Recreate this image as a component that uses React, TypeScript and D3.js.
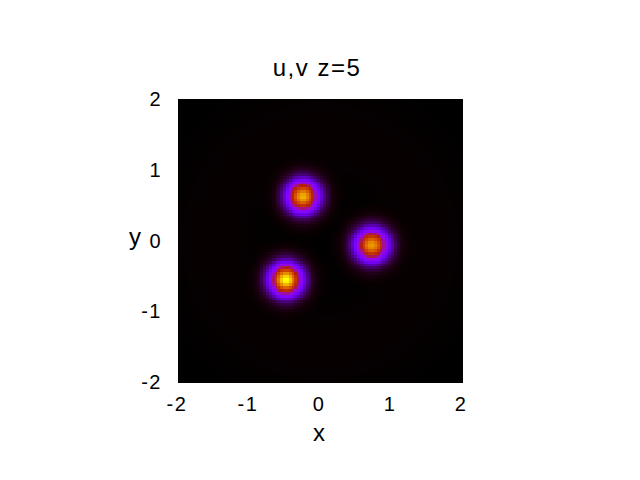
import React from "react";
import * as d3 from "d3";

// Title and axis labels
const title = "u,v z=5";
const xLabel = "x";
const yLabel = "y";
const xTicks = [-2, -1, 0, 1, 2];
const yTicks = [-2, -1, 0, 1, 2];

// Field: three bright spots (centre, peak, width)
const spotX = [-0.24, 0.73, -0.48];
const spotY = [0.63, -0.06, -0.55];
const spotPeak = [0.88, 0.84, 1.0];
const spotWidth = [0.14, 0.143, 0.14];
// faint background ring
const ringRadius = [1.5];
const ringPeak = [0.0007];
const ringWidth = [0.35];

const gridN = 100;

function field(x: number, y: number): number {
  let v = 0;
  for (let i = 0; i < spotX.length; i++) {
    const dx = x - spotX[i];
    const dy = y - spotY[i];
    v += spotPeak[i] * Math.exp(-(dx * dx + dy * dy) / (2 * spotWidth[i] * spotWidth[i]));
  }
  const r = Math.sqrt(x * x + y * y);
  v += ringPeak[0] * Math.exp(-((r - ringRadius[0]) ** 2) / (2 * ringWidth[0] * ringWidth[0]));
  return v;
}

// gnuplot rgbformulae 7,5,15
function palette(t: number): string {
  const x = Math.max(0, Math.min(1, t));
  const r = Math.sqrt(x);
  const g = x * x * x;
  const b = Math.max(0, Math.sin(2 * Math.PI * x));
  return d3.rgb(r * 255, g * 255, b * 255).toString();
}

export default function App() {
  const W = 640, H = 480;
  const left = 178, right = 462, top = 99, bottom = 382;
  const xs = d3.scaleLinear().domain([-2, 2]).range([left, right]);
  const ys = d3.scaleLinear().domain([-2, 2]).range([bottom, top]);
  const step = 4 / gridN;
  const cells: { x0: number; y0: number; v: number }[] = [];
  for (let i = 0; i < gridN; i++) {
    for (let j = 0; j < gridN; j++) {
      const x0 = -2 + i * step;
      const y0 = -2 + j * step;
      cells.push({ x0, y0, v: field(x0 + step / 2, y0 + step / 2) });
    }
  }
  const vmax = d3.max(cells, (c) => c.v) || 1;
  const color = (v: number) => palette(v / vmax);
  const font = "'Liberation Sans', Arial, Helvetica, sans-serif";
  return (
    <svg width={W} height={H} style={{ position: "absolute", left: 0, top: 0, background: "#fff" }}>
      <rect x={0} y={0} width={W} height={H} fill="#fff" />
      <g shapeRendering="crispEdges">
        {cells.map((c, k) => (
          <rect
            key={k}
            x={xs(c.x0)}
            y={ys(c.y0 + step)}
            width={xs(c.x0 + step) - xs(c.x0) + 0.5}
            height={ys(c.y0) - ys(c.y0 + step) + 0.5}
            fill={color(c.v)}
          />
        ))}
      </g>
      <text x={317} y={76} fontFamily={font} fontSize={24} letterSpacing={1.5} textAnchor="middle" fill="#000">
        {title}
      </text>
      {xTicks.map((t) => (
        <text key={"x" + t} x={xs(t) - 1} y={411} fontFamily={font} fontSize={20} letterSpacing={1.5} textAnchor="middle" fill="#000">
          {t}
        </text>
      ))}
      {yTicks.map((t) => (
        <text key={"y" + t} x={162} y={ys(t) + 7} fontFamily={font} fontSize={20} letterSpacing={1.5} textAnchor="end" fill="#000">
          {t}
        </text>
      ))}
      <text x={319} y={441} fontFamily={font} fontSize={24} textAnchor="middle" fill="#000">
        {xLabel}
      </text>
      <text x={135} y={245} fontFamily={font} fontSize={24} textAnchor="middle" fill="#000">
        {yLabel}
      </text>
    </svg>
  );
}
